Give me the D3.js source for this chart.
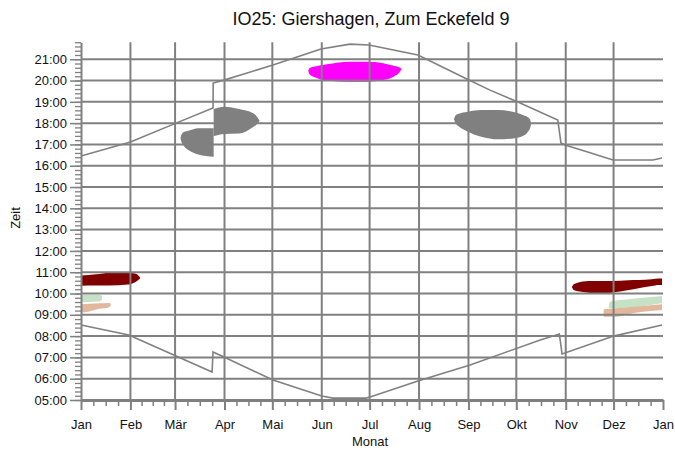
<!DOCTYPE html>
<html>
<head>
<meta charset="utf-8">
<script src="https://cdn.jsdelivr.net/npm/d3@7"></script>
<style>
body{margin:0;background:#fff;}
svg{display:block;font-family:Arial,"Liberation Sans",sans-serif;}
</style>
</head>
<body>
<svg id="chart" width="675" height="450"></svg>
<script>
// Monate (Tag im Jahr am Monatsanfang)
var months = ["Jan","Feb","Mär","Apr","Mai","Jun","Jul","Aug","Sep","Okt","Nov","Dez","Jan"];
var monthStarts = [0,31,59,90,120,151,181,212,243,273,304,334,365];
var hours = [5,6,7,8,9,10,11,12,13,14,15,16,17,18,19,20,21];

// Sonnenauf- und -untergang [Tag, Stunde]
var sunset = [[0,16.46],[31,17.11],[59.6,18.0],[82.8,18.71],[82.9,19.88],[89.7,20.02],[120.4,20.73],
  [150.5,21.48],[168.7,21.71],[180.6,21.67],[211.3,21.2],[242,20.07],[256.5,19.55],[274,18.99],
  [299,18.15],[301,17.07],[303.5,16.97],[317.3,16.66],[333.6,16.27],[358.7,16.27],[364.4,16.36]];
var sunrise = [[0,8.52],[30,8.05],[59.6,7.07],[82.2,6.31],[82.8,7.25],[87,7.11],[120.4,5.94],
  [151,5.19],[158,5.09],[178.7,5.09],[181.3,5.14],[211.3,5.89],[244,6.64],[288,7.82],[300,8.1],
  [301.7,7.16],[334,8.0],[364.4,8.52]];

// Schattenwurf-Bereiche [Tag, von, bis]
var springEarly = [[62.4,17.3,17.3],[63,17.11,17.46],[64.6,16.92,17.58],[67.3,16.74,17.64],[73.6,16.53,17.76],[83.2,16.42,17.76]];
var springLate = [[83.2,17.39,18.66],[90,17.49,18.77],[99,17.51,18.66],[108,17.82,18.46],[110.5,17.96,18.29],[112,18.11,18.11]];
var summer = [[142.5,20.46,20.46],[143.3,20.3,20.58],[146.7,20.15,20.66],[154.1,20.0,20.76],[168.7,19.94,20.88],[179.2,19.94,20.88],
  [189.6,20.02,20.81],[196,20.18,20.69],[199.5,20.36,20.62],[201.1,20.54,20.54]];
var autumn = [[233.9,18.19,18.19],[234.8,18.0,18.35],[236.4,17.88,18.43],[242.7,17.6,18.54],[251,17.36,18.62],[261.5,17.24,18.62],
  [272,17.29,18.51],[278.3,17.44,18.35],[280.3,17.6,18.28],[281.6,17.75,18.17],[282.4,17.99,17.99]];
var janRed = [[0,10.37,10.84],[9.4,10.38,10.9],[17.7,10.38,10.98],[29.3,10.42,10.98],[31.4,10.45,10.96],[34.5,10.55,10.93],[37,10.7,10.76]];
var janGreen = [[0,9.58,9.94],[11,9.62,9.94],[13.2,9.72,9.9]];
var janTan = [[0,9.1,9.5],[5.2,9.16,9.52],[11.5,9.28,9.54],[17.7,9.36,9.56],[18.6,9.42,9.54]];
var decRed = [[307.8,10.3,10.3],[309.2,10.15,10.45],[318.4,10.04,10.59],[322.5,10.01,10.59],[333,10.04,10.59],
  [343.5,10.16,10.62],[349.7,10.25,10.63],[358.1,10.35,10.67],[362.3,10.4,10.71],[364.4,10.4,10.71]];
var decGreen = [[331,9.31,9.45],[332,9.31,9.62],[343.5,9.33,9.73],[354,9.43,9.81],[364.4,9.54,9.88]];
var decTan = [[327.8,8.91,9.26],[335.1,8.91,9.31],[343.5,9.04,9.35],[353.9,9.15,9.42],[364.4,9.23,9.49]];

var svg = d3.select('#chart');
var grey = "#808080";

var x = d3.scaleLinear().domain([0,365]).range([81,663]);
var y = d3.scaleLinear().domain([5,21.8]).range([400,42.2]);

var area = d3.area()
  .x(function(d){return x(d[0]);})
  .y0(function(d){return y(d[1]);})
  .y1(function(d){return y(d[2]);})
  .curve(d3.curveMonotoneX);

var blobs = [
  {d: springEarly, c: grey}, {d: springLate, c: grey}, {d: summer, c: "#ff00ff"}, {d: autumn, c: grey},
  {d: janRed, c: "#800000"}, {d: janGreen, c: "#c6e2c6"}, {d: janTan, c: "#e2b89c"},
  {d: decRed, c: "#800000"}, {d: decGreen, c: "#c6e2c6"}, {d: decTan, c: "#e2b89c"}
];

svg.append("g").selectAll("path")
  .data(blobs).enter().append("path")
  .attr("d", function(b){return area(b.d);})
  .attr("fill", function(b){return b.c;});

// Gitter
var grid = svg.append("g").attr("stroke", grey).attr("stroke-width", 2);
grid.selectAll(".h").data(hours.slice(1)).enter().append("line")
  .attr("x1", x(0)).attr("x2", x(365))
  .attr("y1", function(d){return y(d);}).attr("y2", function(d){return y(d);});
grid.selectAll(".v").data(monthStarts.slice(1,12)).enter().append("line")
  .attr("x1", function(d){return x(d);}).attr("x2", function(d){return x(d);})
  .attr("y1", y(21.8)).attr("y2", y(5));

// Sonnenlinien
var line = d3.line().x(function(d){return x(d[0]);}).y(function(d){return y(d[1]);});
[sunset, sunrise].forEach(function(s){
  svg.append("path").attr("d", line(s)).attr("fill","none")
    .attr("stroke", grey).attr("stroke-width", 1.6);
});

// Achsen
var minorY = d3.range(5, 21.81, 0.2);
svg.append("g").attr("transform","translate(81,0)")
  .call(d3.axisLeft(y).tickValues(minorY).tickSize(6).tickFormat("").tickSizeOuter(0))
  .call(function(g){g.select(".domain").remove();})
  .selectAll("line").attr("stroke", grey).attr("stroke-width", 1.3);

var yAxis = svg.append("g").attr("transform","translate(81,0)")
  .call(d3.axisLeft(y).tickValues(hours).tickSize(11).tickPadding(3).tickSizeOuter(0)
    .tickFormat(function(d){return d3.format("02")(d) + ":00";}));
yAxis.select(".domain").attr("stroke", grey).attr("stroke-width", 2);
yAxis.selectAll("line").attr("stroke", grey).attr("stroke-width", 1.5);
yAxis.selectAll("text").attr("font-size", "13px").attr("fill", "#111");

var minorX = [];
for (var i = 0; i < 12; i++) {
  var a = monthStarts[i], b = monthStarts[i+1];
  minorX.push(a + (b-a)/4, a + (b-a)/2, a + 3*(b-a)/4);
}
svg.append("g").attr("transform","translate(0,400)")
  .call(d3.axisBottom(x).tickValues(minorX).tickSize(6).tickFormat("").tickSizeOuter(0))
  .call(function(g){g.select(".domain").remove();})
  .selectAll("line").attr("stroke", grey).attr("stroke-width", 1.5);

var xAxis = svg.append("g").attr("transform","translate(0,400)")
  .call(d3.axisBottom(x).tickValues(monthStarts).tickSize(10).tickPadding(10).tickSizeOuter(0)
    .tickFormat(function(d,i){return months[i];}));
xAxis.select(".domain").attr("stroke", grey).attr("stroke-width", 3);
xAxis.selectAll("line").attr("stroke", grey).attr("stroke-width", 2);
xAxis.selectAll("text").attr("font-size", "13px").attr("fill", "#111");

// Titel und Achsenbeschriftungen
svg.append("text").attr("x", 371).attr("y", 25).attr("text-anchor","middle")
  .attr("font-size","18px").attr("fill","#111").text("IO25: Giershagen, Zum Eckefeld 9");
svg.append("text").attr("x", 370).attr("y", 446).attr("text-anchor","middle")
  .attr("font-size","13px").attr("fill","#111").text("Monat");
svg.append("text").attr("transform","translate(20,218) rotate(-90)").attr("text-anchor","middle")
  .attr("font-size","13px").attr("fill","#111").text("Zeit");
</script>
</body>
</html>
